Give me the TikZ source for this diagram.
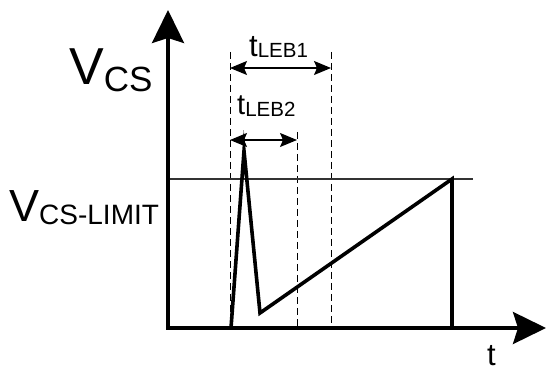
\documentclass[tikz,border=0pt]{standalone}
\usepackage{fontspec}
\setmainfont{Liberation Sans}
\usetikzlibrary{arrows.meta}
\newcommand{\fs}[1]{\fontsize{#1}{#1}\selectfont}
\begin{document}
\begin{tikzpicture}[x=1pt,y=-1pt,
  axis/.style={line width=3.4pt,-{Stealth[length=33pt,width=32pt,inset=5pt]}},
  wave/.style={line width=3.6pt,line join=miter,miter limit=20},
  limitline/.style={line width=1.2pt,black!80},
  guide/.style={line width=1pt,dash pattern=on 7pt off 4pt},
  span/.style={line width=1.3pt,{Stealth[length=17pt,width=14pt,inset=3pt]}-{Stealth[length=17pt,width=14pt,inset=3pt]}},
  lbl/.style={inner sep=0pt,anchor=base west}]
\useasboundingbox (0,0) rectangle (546,371);
% coordinates
\coordinate (O) at (168,328);
\coordinate (Ytip) at (168,10);
\coordinate (Xtip) at (546,328);
\coordinate (L0) at (168,179);
\coordinate (L1) at (473,179);
\coordinate (w0) at (231,328);
\coordinate (w1) at (244,151);
\coordinate (w2) at (260,313);
\coordinate (w3) at (452,179);
\coordinate (w4) at (452,328);
\coordinate (d1t) at (230,52);
\coordinate (d1b) at (230,328);
\coordinate (d2t) at (297,132);
\coordinate (d2b) at (297,328);
\coordinate (d3t) at (331,52);
\coordinate (d3b) at (331,328);
\coordinate (a1l) at (230,68);
\coordinate (a1r) at (331,68);
\coordinate (a2l) at (230,140);
\coordinate (a2r) at (297,140);
% guides
\draw[guide] (d1t) -- (d1b);
\draw[guide] (d2t) -- (d2b);
\draw[guide] (d3t) -- (d3b);
% limit line
\draw[limitline] (L0) -- (L1);
% waveform
\draw[wave] (w0) -- (w1) -- (w2) -- (w3) -- (w4);
% axes
\draw[axis] (O) -- (Ytip);
\draw[axis] ([xshift=-1.7pt]O) -- (Xtip);
% spans
\draw[span] (a1l) -- (a1r);
\draw[span] (a2l) -- (a2r);
% labels
\node[lbl] (vcs) at (69,85) {\fs{52}V\fs{35}\raisebox{-7pt}{CS}};
\node[lbl] (vlim) at (9,222) {\fs{45}V\fs{28}\raisebox{-3pt}{CS-LIMIT}};
\node[lbl] (leb1) at (249,57) {\fs{31}t\fs{20.5}\raisebox{-1pt}{LEB1}};
\node[lbl] (leb2) at (237,115) {\fs{29}t\fs{20.5}\raisebox{-2pt}{LEB2}};
\node[lbl] (tlab) at (487,365) {\fs{31}t};
\end{tikzpicture}
\end{document}
